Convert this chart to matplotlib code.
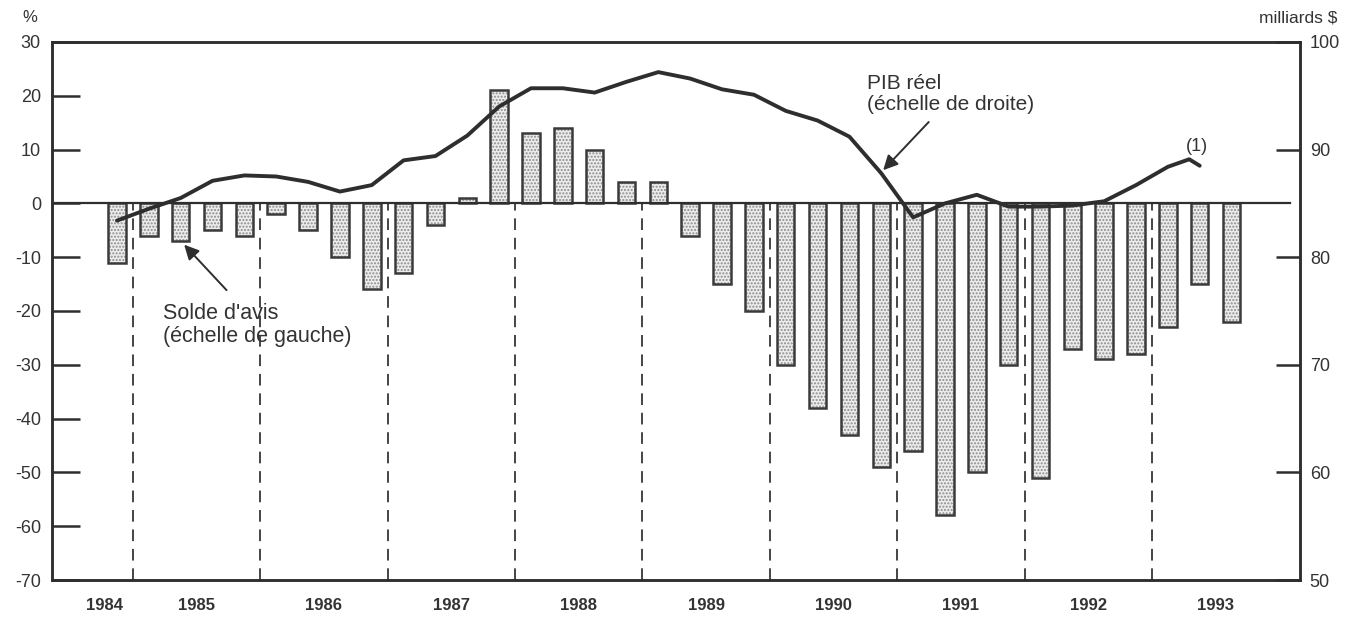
import numpy as np
import matplotlib
matplotlib.use("Agg")
import matplotlib.pyplot as plt

plt.rcParams['font.family'] = ['Liberation Sans', 'DejaVu Sans']
plt.rcParams['axes.unicode_minus'] = False

## the data
years = [1984, 1985, 1986, 1987, 1988, 1989, 1990, 1991, 1992, 1993]
# quarterly opinion balance (%), 1984 T4 .. 1993 T3
solde = [-11,
         -6, -7, -5, -6,
         -2, -5, -10, -16,
         -13, -4, 1, 21,
         13, 14, 10, 4,
         4, -6, -15, -20,
         -30, -38, -43, -49,
         -46, -58, -50, -30,
         -51, -27, -29, -28,
         -23, -15, -22]
# real GDP (billions $), quarters since 1984 T1
pib_t = [3, 4, 5, 6, 7, 8, 9, 10, 11, 12, 13, 14, 15, 16, 17, 18, 19, 20,
         21, 22, 23, 24, 25, 26, 27, 28, 29, 30, 31, 32, 33, 34, 35, 36,
         36.67, 37]
pib = [83.4, 84.5, 85.5, 87.1, 87.6, 87.5, 87.0, 86.1, 86.7, 89.0, 89.4,
       91.3, 94.0, 95.7, 95.7, 95.3, 96.3, 97.2, 96.6, 95.6, 95.1, 93.6,
       92.7, 91.2, 87.8, 83.7, 85.0, 85.8, 84.7, 84.7, 84.8, 85.2, 86.7,
       88.4, 89.1, 88.5]

## necessary variables
first_q = 3                                  # 1984 T4
ind = np.arange(first_q, first_q + len(solde))
width = 0.55
dark = '#2e2e2e'
txt = '#333333'

fig = plt.figure(figsize=(13.62, 6.22), dpi=100)
ax = fig.add_axes([0.0382, 0.0675, 0.9163, 0.865])
ax2 = ax.twinx()

## the bars
ax.bar(ind, solde, width, color='#ececec', edgecolor='#8c8c8c',
       hatch='.....', linewidth=0, zorder=2)
ax.bar(ind, solde, width, fill=False, edgecolor='#3a3a3a',
       linewidth=1.8, zorder=3)

# year separators, dashed below zero
for k in range(1, len(years)):
    xb = 4 * (years[k] - years[0]) - 0.5
    ax.plot([xb, xb], [-70, 0], color='#444444', lw=1.4,
            dashes=(6, 4), zorder=1)

ax.axhline(0, xmin=0, xmax=0.992, color=dark, lw=1.6, zorder=4)

## the line
ax2.plot(pib_t, pib, color=dark, lw=2.8, solid_joinstyle='round',
         solid_capstyle='round', zorder=5)

# axes and labels
ax.set_xlim(0.96, 40.15)
ax.set_ylim(-70, 30)
ax2.set_ylim(50, 100)
ax.set_yticks(np.arange(-70, 31, 10))
ax2.set_yticks(np.arange(50, 101, 10))
ax.set_xticks([])
ax.tick_params(axis='y', direction='in', length=20, width=1.8, color=dark,
               labelsize=13, labelcolor=txt, pad=8)
ax2.tick_params(axis='y', direction='in', length=17, width=1.8, color=dark,
                labelsize=13, labelcolor=txt, pad=7)
for a in (ax, ax2):
    for s in a.spines.values():
        s.set_color(dark)
        s.set_linewidth(1.8)
ax.set_zorder(ax2.get_zorder() - 1)
ax.patch.set_visible(False)

for y in years:
    xc = 4 * (y - years[0]) + 1.5 if y > years[0] else 2.6
    ax.text(xc, -74.8, str(y), ha='center', va='center', fontsize=12,
            fontweight='bold', color=txt)

ax.text(-0.0176, 1.045, '%', transform=ax.transAxes, fontsize=12,
        color=txt, ha='center', va='center')
ax.text(1.0296, 1.045, 'milliards $', transform=ax.transAxes, fontsize=12.5,
        color=txt, ha='right', va='center')

ax2.annotate('', xy=(27.0, 87.9), xytext=(28.55, 92.75),
             arrowprops=dict(arrowstyle='-|>', color=dark, lw=1.4,
                             mutation_scale=22))
ax2.text(26.55, 95.2, "PIB réel\n(échelle de droite)", fontsize=15,
         color=txt, ha='left', va='center', linespacing=1.15)
ax.annotate('', xy=(5.05, -7.3), xytext=(6.5, -16.5),
            arrowprops=dict(arrowstyle='-|>', color=dark, lw=1.4,
                            mutation_scale=22))
ax.text(4.44, -22.6, "Solde d'avis\n(échelle de gauche)", fontsize=15.5,
        color=txt, ha='left', va='center', linespacing=1.15)
ax2.text(36.9, 90.3, '(1)', fontsize=13, color=txt, ha='center',
         va='center')

fig.savefig('out.png', dpi=100)
